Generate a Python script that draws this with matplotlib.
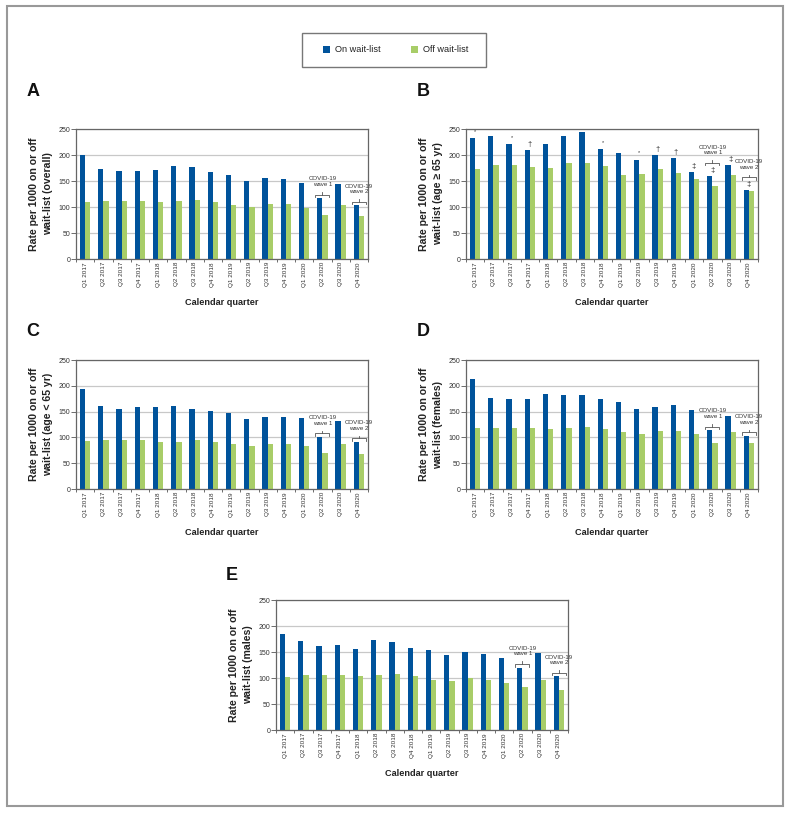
import matplotlib
matplotlib.use("Agg")
import matplotlib.pyplot as plt
from matplotlib.patches import Rectangle
import numpy as np

plt.rcParams['font.family'] = ['Liberation Sans', 'DejaVu Sans']

quarters = ["Q1 2017", "Q2 2017", "Q3 2017", "Q4 2017",
            "Q1 2018", "Q2 2018", "Q3 2018", "Q4 2018",
            "Q1 2019", "Q2 2019", "Q3 2019", "Q4 2019",
            "Q1 2020", "Q2 2020", "Q3 2020", "Q4 2020"]
series_names = ["On wait-list", "Off wait-list"]

on_overall = [200, 174, 169, 170, 172, 178, 177, 167, 161, 150, 155, 154, 147, 117, 145, 103]
off_overall = [109, 112, 112, 112, 110, 112, 114, 110, 103, 100, 106, 105, 99, 85, 104, 82]

on_65plus = [232, 237, 221, 210, 222, 237, 245, 211, 203, 191, 200, 195, 167, 160, 181, 132]
off_65plus = [174, 181, 180, 177, 175, 184, 184, 178, 162, 163, 174, 166, 153, 140, 161, 130]
marks_65plus = ["*", "", "*", "\u2020", "", "", "", "*", "", "*", "\u2020", "\u2020",
                "\u2021", "\u2021", "\u2021", "\u2021"]

on_under65 = [193, 160, 155, 158, 158, 160, 156, 151, 147, 135, 139, 139, 138, 101, 131, 91]
off_under65 = [93, 94, 95, 95, 92, 92, 95, 91, 87, 83, 88, 87, 83, 70, 87, 67]

on_females = [214, 177, 175, 175, 185, 182, 183, 175, 168, 155, 159, 162, 153, 114, 142, 103]
off_females = [118, 118, 118, 119, 117, 118, 120, 117, 110, 106, 113, 112, 106, 89, 110, 89]

on_males = [185, 171, 162, 164, 156, 173, 170, 157, 153, 144, 150, 146, 139, 120, 149, 103]
off_males = [101, 105, 106, 105, 103, 105, 107, 103, 96, 94, 100, 97, 91, 82, 97, 76]

waves = {13: "COVID-19\nwave 1", 15: "COVID-19\nwave 2"}

BLUE = "#00539b"
GREEN = "#a8cd68"
W, H = 791, 813

fig = plt.figure(figsize=(W / 100, H / 100), dpi=100)

def rect(x0, y0, x1, y1):
    return [x0 / W, 1 - y1 / H, (x1 - x0) / W, (y1 - y0) / H]

panels = [
    ("A", on_overall, off_overall, None, "wait-list (overall)", rect(76, 129, 368, 259), (33, 92)),
    ("B", on_65plus, off_65plus, marks_65plus, "wait-list (age \u2265 65 yr)", rect(466, 129, 758, 259), (423, 92)),
    ("C", on_under65, off_under65, None, "wait-list (age < 65 yr)", rect(76, 360, 368, 489), (33, 331)),
    ("D", on_females, off_females, None, "wait-list (females)", rect(466, 360, 758, 489), (423, 331)),
    ("E", on_males, off_males, None, "wait-list (males)", rect(276, 600, 568, 730), (232, 575)),
]

bw = 0.29
x = np.arange(len(quarters))

for letter, on, off, marks, ylab2, r, lpos in panels:
    ax = fig.add_axes(r)
    ax.set_axisbelow(True)
    ax.bar(x - bw / 2, on, width=bw, color=BLUE, linewidth=0, zorder=2)
    ax.bar(x + bw / 2, off, width=bw, color=GREEN, linewidth=0, zorder=2)
    ax.set_xlim(-0.5, len(quarters) - 0.5)
    ax.set_ylim(0, 250)
    ax.set_yticks([0, 50, 100, 150, 200, 250])
    ax.yaxis.grid(True, color="#c8c8c8", linewidth=0.9)
    ax.set_xticks(x)
    ax.set_xticklabels(quarters, rotation=90, fontsize=4.6, color="#333333")
    ax.set_xticks(np.arange(-0.5, len(quarters), 1.0), minor=True)
    ax.tick_params(axis="x", which="major", length=0, pad=2.2)
    ax.tick_params(axis="x", which="minor", length=2, width=0.6, color="#555555")
    ax.tick_params(axis="y", length=3.5, width=0.6, color="#555555", labelsize=5.0,
                   labelcolor="#333333", pad=0.6)
    for s in ax.spines.values():
        s.set_color("#666666")
        s.set_linewidth(0.9)

    ax.text(-0.12, 0.5, "Rate per 1000 on or off\n" + ylab2, transform=ax.transAxes,
            rotation=90, ha="center", va="center", fontsize=7.6, fontweight="bold",
            linespacing=1.45, color="#222222")
    ax.text(0.5, -0.335, "Calendar quarter", transform=ax.transAxes, ha="center",
            va="center", fontsize=6.6, fontweight="bold", color="#222222")
    fig.text(lpos[0] / W, 1 - lpos[1] / H, letter, ha="center", va="center",
             fontsize=13, fontweight="bold", color="#111111")

    if marks is not None:
        for i, m in enumerate(marks):
            if m:
                top = max(on[i], off[i])
                ax.annotate(m, xy=(i, top), xytext=(0, 1.5 if m != "*" else 3.0),
                            textcoords="offset points", ha="center", va="bottom",
                            fontsize=5.5 if m != "*" else 4.0, color="#333333",
                            annotation_clip=False)

    for i, label in waves.items():
        top = max(on[i], off[i])
        b = top + (25 if (marks is not None and marks[i]) else 7)
        ax.plot([i - 0.38, i - 0.38, i + 0.38, i + 0.38], [b - 5, b, b, b - 5],
                color="#555555", lw=0.6, clip_on=False, zorder=3)
        ax.plot([i, i], [b, b + 5], color="#555555", lw=0.6, clip_on=False, zorder=3)
        ax.annotate(label, xy=(i, b), xytext=(0, 5.5), textcoords="offset points",
                    ha="center", va="bottom", fontsize=4.4, color="#333333",
                    linespacing=1.15, annotation_clip=False)

# legend box
fig.patches.append(Rectangle((302 / W, 1 - 67 / H), 184 / W, 34 / H, transform=fig.transFigure,
                             fill=False, edgecolor="#777777", linewidth=1.0))
for (sx, tx), col, name in zip([(323, 335), (411, 423)], [BLUE, GREEN], series_names):
    fig.patches.append(Rectangle((sx / W, 1 - 53.5 / H), 7 / W, 7 / H,
                                 transform=fig.transFigure, facecolor=col, edgecolor="none"))
    fig.text(tx / W, 1 - 50 / H, name, ha="left", va="center", fontsize=6.6, color="#222222")

# outer frame
fig.patches.append(Rectangle((7 / W, 1 - 806 / H), 776 / W, 800 / H, transform=fig.transFigure,
                             fill=False, edgecolor="#999999", linewidth=1.5))

fig.savefig("out.png", dpi=100)
